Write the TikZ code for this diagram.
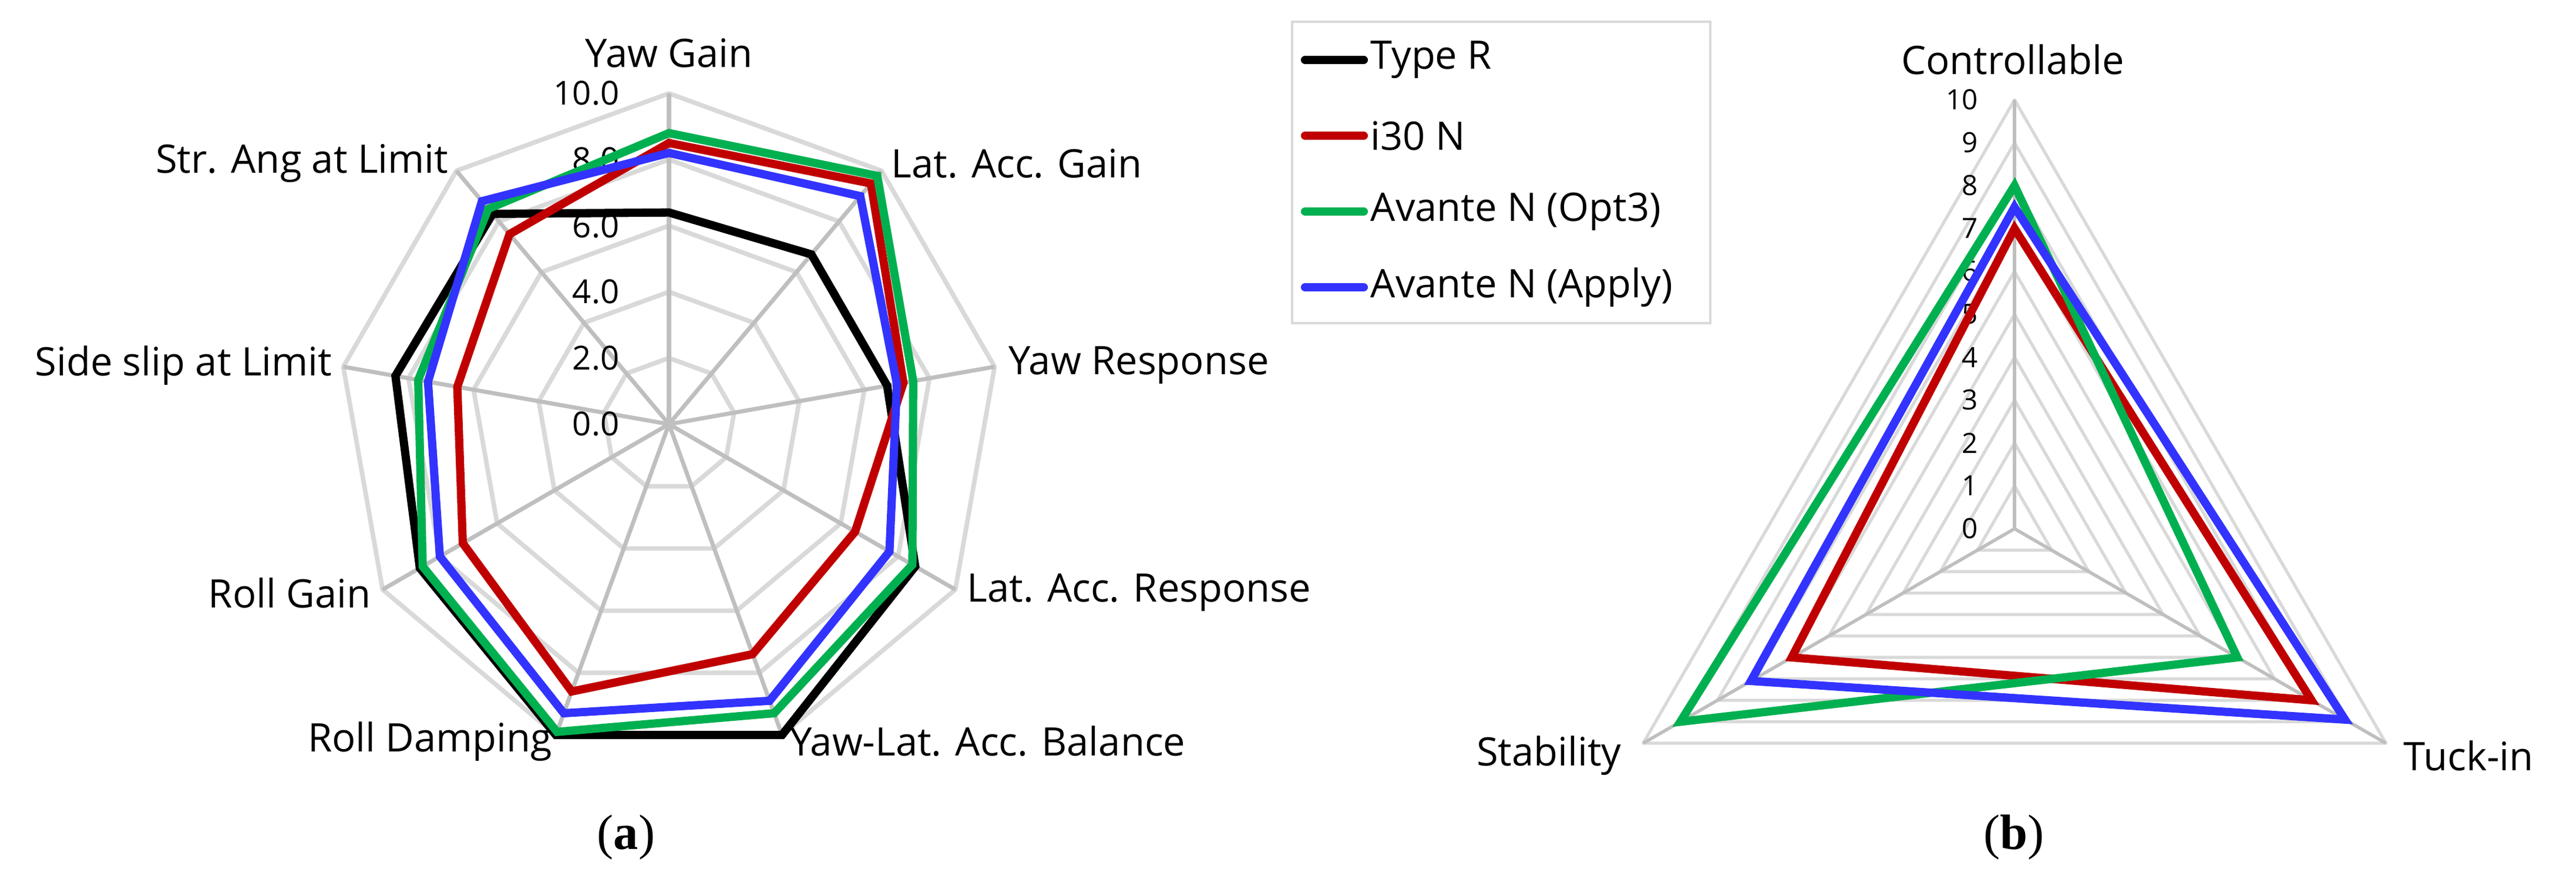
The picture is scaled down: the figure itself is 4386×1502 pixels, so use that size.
\documentclass[tikz,border=0pt]{standalone}
\usepackage{fontspec}
\setmainfont{Open Sans}
\newfontfamily\capfont{Liberation Serif}
\definecolor{cblk}{RGB}{0,0,0}
\definecolor{cred}{RGB}{192,0,0}
\definecolor{cgrn}{RGB}{0,176,80}
\definecolor{cblu}{RGB}{51,51,255}
\definecolor{ring}{RGB}{217,217,217}
\definecolor{spoke}{RGB}{191,191,191}
\begin{document}
\begin{tikzpicture}[x=0.01cm,y=0.01cm,
  ringL/.style={draw=ring,line width=2.2pt,line join=round},
  spokeL/.style={draw=spoke,line width=2pt},
  ringR/.style={draw=ring,line width=1.5pt,line join=round},
  spokeR/.style={draw=spoke,line width=1.6pt},
  data/.style={line width=4pt,line join=miter},
  lab/.style={font=\fontsize{19}{22}\selectfont,inner sep=0pt},
  tick/.style={font=\fontsize{16}{18}\selectfont,inner sep=0pt,anchor=east},
  tickR/.style={font=\fontsize{13.5}{16}\selectfont,inner sep=0pt,anchor=east},
  capt/.style={font=\capfont\fontsize{24}{28}\selectfont,inner sep=0pt}]
\useasboundingbox (0,0) rectangle (4386,1502);
% ---------- left chart ----------
\begin{scope}[shift={(1139,780)}]
  \foreach \j in {1,...,5}{
    \draw[ringL] (90:{112.6*\j}) \foreach \k in {1,...,8}{ -- ({90-40*\k}:{112.6*\j})} -- cycle;}
  \foreach \k in {0,...,8}{ \draw[spokeL] (0,0) -- ({90-40*\k}:563);}
  \foreach \j/\t in {0/0.0,1/2.0,2/4.0,3/6.0,4/8.0,5/10.0}{
    \node[tick] (tl\j) at (-84,{112.6*\j}) {\t};}
  \draw[data,cblk] (90:{56.3*6.4}) -- (50:{56.3*6.7}) -- (10:{56.3*6.7}) -- (-30:{56.3*8.6}) -- (-70:{56.3*10}) -- (-110:{56.3*10}) -- (-150:{56.3*8.7}) -- (-190:{56.3*8.4}) -- (-230:{56.3*8.3}) -- cycle;
  \draw[data,cred] (90:{56.3*8.5}) -- (50:{56.3*9.5}) -- (10:{56.3*7.2}) -- (-30:{56.3*6.5}) -- (-70:{56.3*7.4}) -- (-110:{56.3*8.6}) -- (-150:{56.3*7.2}) -- (-190:{56.3*6.5}) -- (-230:{56.3*7.5}) -- cycle;
  \draw[data,cgrn] (90:{56.3*8.8}) -- (50:{56.3*9.8}) -- (10:{56.3*7.5}) -- (-30:{56.3*8.5}) -- (-70:{56.3*9.3}) -- (-110:{56.3*9.9}) -- (-150:{56.3*8.6}) -- (-190:{56.3*7.7}) -- (-230:{56.3*8.5}) -- cycle;
  \draw[data,cblu] (90:{56.3*8.2}) -- (50:{56.3*9.0}) -- (10:{56.3*7.0}) -- (-30:{56.3*7.7}) -- (-70:{56.3*8.9}) -- (-110:{56.3*9.3}) -- (-150:{56.3*8.0}) -- (-190:{56.3*7.4}) -- (-230:{56.3*8.8}) -- cycle;
\end{scope}
\node[lab] (l0) at (1139,1412) {Yaw Gain};
\node[lab,anchor=west] (l1) at (1517,1224) {Lat. Acc. Gain};
\node[lab,anchor=west] (l2) at (1717,880) {Yaw Response};
\node[lab,anchor=west] (l3) at (1646,493) {Lat. Acc. Response};
\node[lab,anchor=west] (l4) at (1345,240) {Yaw-Lat. Acc. Balance};
\node[lab,anchor=east] (l5) at (941,240) {Roll Damping};
\node[lab,anchor=east] (l6) at (632,493) {Roll Gain};
\node[lab,anchor=east] (l7) at (566,880) {Side slip at Limit};
\node[lab,anchor=east] (l8) at (764,1224) {Str. Ang at Limit};
\node[capt] (ca) at (1066,77) {(\textbf{a})};
% ---------- legend ----------
\draw[ring,line width=1pt] (2200,1465) rectangle (2912,952);
\foreach \c/\t/\y in {cblk/Type R/1400,cred/i30 N/1271,cgrn/Avante N (Opt3)/1142,cblu/Avante N (Apply)/1013}{
  \draw[\c,line width=4pt,line cap=round] (2222,\y) -- (2322,\y);
  \node[lab,anchor=west] (lg\y) at (2333,\y) {\t};}
% ---------- right chart ----------
\begin{scope}[shift={(3430,602)}]
  \foreach \j in {1,...,10}{
    \draw[ringR] (90:{73*\j}) -- (-30:{73*\j}) -- (210:{73*\j}) -- cycle;}
  \foreach \a in {90,-30,210}{ \draw[spokeR] (0,0) -- (\a:730);}
  \foreach \j in {0,...,10}{ \node[tickR] (tr\j) at (-62,{73*\j}) {\j};}
  \draw[data,cred] (90:{73*7.0}) -- (-30:{73*8.0}) -- (210:{73*6.0}) -- cycle;
  \draw[data,cgrn] (90:{73*8.0}) -- (-30:{73*6.0}) -- (210:{73*9.0}) -- cycle;
  \draw[data,cblu] (90:{73*7.5}) -- (-30:{73*8.9}) -- (210:{73*7.1}) -- cycle;
\end{scope}
\node[lab] (r0) at (3427,1401) {Controllable};
\node[lab,anchor=east] (r1) at (2761,216) {Stability};
\node[lab,anchor=west] (r2) at (4092,216) {Tuck-in};
\node[capt] (cb) at (3429,77) {(\textbf{b})};
\end{tikzpicture}
\end{document}
